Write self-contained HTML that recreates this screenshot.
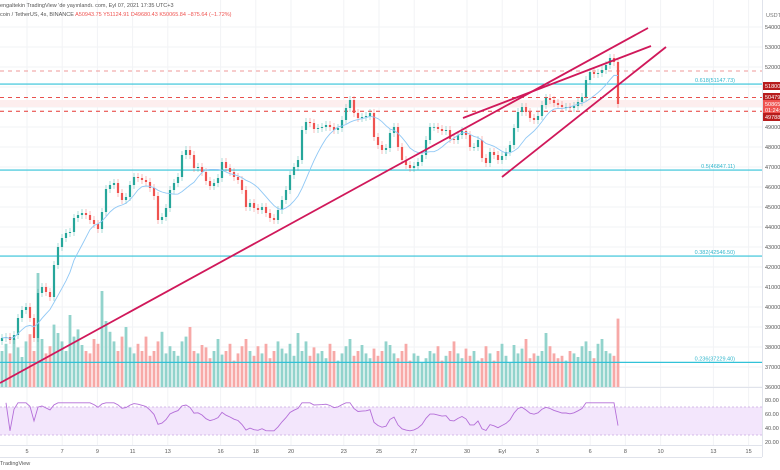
<!DOCTYPE html>
<html><head><meta charset="utf-8"><style>
html,body{margin:0;padding:0;background:#fff;width:780px;height:470px;overflow:hidden}
svg{display:block;font-family:"Liberation Sans",sans-serif}
</style></head><body>
<svg id="chart" width="780" height="470" viewBox="0 0 780 470" xmlns="http://www.w3.org/2000/svg">
<rect width="780" height="470" fill="#fff"/>
<g id="grid"></g>
<rect x="0" y="407" width="762" height="28" fill="#f3e6fc"/>
<line x1="0" y1="407" x2="762" y2="407" stroke="#c9a9df" stroke-dasharray="2,2" stroke-width="0.7"/>
<line x1="0" y1="435" x2="762" y2="435" stroke="#c9a9df" stroke-dasharray="2,2" stroke-width="0.7"/>
<rect x="0" y="100" width="762" height="7" fill="#fdeeee"/>
<g id="vol"></g>
<g id="hlines"></g>
<g id="candles"></g>
<path id="ma" fill="none" stroke="#90c8f5" stroke-width="0.9"/>
<g id="trend" stroke="#d0185a" stroke-width="1.8" fill="none"></g>
<path id="rsi" fill="none" stroke="#b46ed8" stroke-width="0.9"/>
<line x1="0" y1="387.5" x2="762" y2="387.5" stroke="#e0e3eb" stroke-width="1"/>
<line x1="0" y1="445.5" x2="762" y2="445.5" stroke="#e0e3eb" stroke-width="1"/>
<line x1="0" y1="457.5" x2="762" y2="457.5" stroke="#e0e3eb" stroke-width="1"/>
<line x1="762.5" y1="0" x2="762.5" y2="457" stroke="#e0e3eb" stroke-width="1"/>
<g id="yaxis" font-size="5.5" fill="#555"></g>
<g id="xaxis" font-size="5.5" fill="#555" text-anchor="middle"></g>
<g id="labels"></g>
<text x="0" y="7" font-size="5.5" fill="#555">engaltekin TradingView 'de yayınlandı. com, Eyl 07, 2021 17:35 UTC+3</text>
<text x="0" y="16" font-size="5.5" fill="#555">coin / TetherUS, 4s, BINANCE <tspan fill="#ef5350">A50943.75  Y51124.91  D49680.43  K50065.84  −875.64 (−1.72%)</tspan></text>
<text x="766" y="17" font-size="5.5" fill="#777">USDT</text>
<text x="0" y="465" font-size="5.5" fill="#555">TradingView</text>
</svg>
<script>
const closes=[38450,38500,38350,38600,39450,39850,40000,39450,38450,40700,41000,40750,40500,42100,43000,43450,43700,43750,44450,44600,44700,44600,44350,44150,43900,44750,45900,46100,46200,45700,45350,45500,46100,46500,46450,46350,46250,45950,45550,44350,44500,44950,45850,46200,46500,47600,47850,47600,46950,47000,46750,46300,46050,46200,46450,47250,46950,46750,46500,46350,45850,45000,45200,44950,44850,45000,44700,44450,44350,44850,45350,45850,46600,47000,47350,48850,49250,49200,48900,48950,49000,49100,49000,48850,48950,49350,49950,50350,49700,49450,49500,49550,49700,48500,48100,47850,47950,48700,49000,48000,47350,47100,46950,47050,47250,47600,48350,49000,49000,48900,48800,48850,48400,48350,48600,48800,48600,48000,48000,48350,47450,47200,47750,47600,47350,47550,47750,48100,48950,49750,50000,49750,49450,49350,49550,50100,50450,50350,50200,50100,50000,50000,49950,50050,50250,50500,51350,51750,51650,51700,51850,52100,52450,52250,50150];
const volumes=[30,36,28,40,33,25,38,44,30,95,40,28,34,52,45,38,30,60,42,48,35,30,28,40,36,80,55,46,38,30,42,50,33,28,36,30,42,26,30,38,46,28,34,30,26,38,42,50,30,28,35,33,24,30,40,27,30,36,22,28,34,40,30,26,34,28,36,24,30,38,32,28,36,26,45,30,38,26,33,28,30,24,36,30,22,28,34,40,26,30,35,28,24,32,26,30,38,35,28,24,30,36,22,28,26,20,24,30,28,34,22,26,30,38,28,24,32,26,30,22,24,34,28,22,30,36,26,20,35,28,32,40,24,28,26,30,45,34,28,24,26,22,30,28,25,34,38,30,24,36,40,30,28,26,57];
const yTicks=[54000,53000,52000,49000,48000,47000,46000,45000,44000,43000,42000,41000,40000,39000,38000,37000,36000];
const rsiTicks=[80,60,40,20];
const xTickLabels=["5","7","9","11","13","16","18","20","23","25","27","30","Eyl","3","6","8","10","13","15"];
const xTickDays=[0,2,4,6,8,11,13,15,18,20,22,25,27,29,32,34,36,39,41];
const fibLevels=[51147.73,46847.11,42546.50,37229.40];
const fibNames=["0.618(51147.73)","0.5(46847.11)","0.382(42546.50)","0.236(37229.40)"];
const alertLevels=[51800,50479,49788];
const trendLines=[[36200,-0.5,53950,161.5],[49450,115.25,53050,162.25],[46500,125,53000,166]];

const NS="http://www.w3.org/2000/svg";
const py=p=>27+(54000-p)*0.02;
const cx=i=>2+i*4;
const dayX=d=>27+d*17.6;
const ry=v=>400+(80-v)*0.7;
const vh=v=>v*1.2;
function mk(tag,attrs,parent){const e=document.createElementNS(NS,tag);for(const k in attrs)e.setAttribute(k,attrs[k]);parent.appendChild(e);return e;}
const $=id=>document.getElementById(id);

xTickDays.forEach(d=>{const l=mk('line',{x1:dayX(d),y1:0,x2:dayX(d),y2:445,stroke:'#f2f3f6','stroke-width':1},$('grid'));

});
for(let p=36000;p<=54000;p+=1000){const l=mk('line',{x1:0,y1:py(p),x2:762,y2:py(p),stroke:'#f2f3f6','stroke-width':1},$('grid'));

}

volumes.forEach((v,i)=>{const o=i?closes[i-1]:38300;const up=closes[i]>=o;
const r=mk('rect',{x:cx(i)-1.4,y:387-vh(v),width:2.8,height:vh(v),fill:up?'#92d3cc':'#f7a9a7'},$('vol'));

});

fibLevels.forEach((p,k)=>{const l=mk('line',{x1:0,y1:py(p),x2:762,y2:py(p),stroke:'#31c2d8','stroke-width':1.2},$('hlines'));


const t=mk('text',{x:735,y:py(p)-2,'font-size':5.5,fill:'#31b6cc','text-anchor':'end'},$('hlines'));t.textContent=fibNames[k];

});
alertLevels.forEach((p,k)=>{const l=mk('line',{x1:0,y1:py(p),x2:762,y2:py(p),stroke:k==0?'#ef9a9a':'#e53935','stroke-width':0.9,'stroke-dasharray':'4,4'},$('hlines'));

});

closes.forEach((c,i)=>{const o=i?closes[i-1]:38300;const up=c>=o;const col=up?'#26a69a':'#ef5350';
const hi=Math.max(o,c)+200,lo=Math.min(o,c)-200;
const g=mk('g',{},$('candles'));


mk('line',{x1:cx(i),y1:py(hi),x2:cx(i),y2:py(lo),stroke:col,'stroke-width':0.7,opacity:0.55},g);
const top=py(Math.max(o,c)),h=Math.max(0.8,py(Math.min(o,c))-top);
mk('rect',{x:cx(i)-1.1,y:top,width:2.2,height:h,fill:col},g);});

let d='';closes.forEach((c,i)=>{const n=Math.min(10,i+1);let s=0;for(let j=i-n+1;j<=i;j++)s+=closes[j];d+=(i?'L':'M')+cx(i)+','+py(s/n).toFixed(1);});
$('ma').setAttribute('d',d);

trendLines.forEach(t=>{const [p1,i1,p2,i2]=t;const l=mk('line',{x1:cx(i1),y1:py(p1),x2:cx(i2),y2:py(p2)},$('trend'));

});

let ag=0,al=0,rd='';const N=12;
closes.forEach((c,i)=>{if(i==0)return;const ch=c-closes[i-1];const g=Math.max(ch,0),l=Math.max(-ch,0);
if(i<=N){ag+=g/N;al+=l/N;}else{ag=(ag*(N-1)+g)/N;al=(al*(N-1)+l)/N;}
const rs=al==0?100:100-100/(1+ag/al);const v=Math.min(76,Math.max(36,rs));
rd+=(rd?'L':'M')+cx(i)+','+ry(v).toFixed(1);});
$('rsi').setAttribute('d',rd);

yTicks.forEach(p=>{const t=mk('text',{x:765,y:py(p)+2},$('yaxis'));t.textContent=p+'.00';

});
rsiTicks.forEach(v=>{const t=mk('text',{x:765,y:ry(v)+2},$('yaxis'));t.textContent=v+'.00';

});
xTickLabels.forEach((s,k)=>{const t=mk('text',{x:dayX(xTickDays[k]),y:453},$('xaxis'));t.textContent=s;

});

const boxes=[[86,'#b71c1c','51800.00'],[97,'#b71c1c','50479.00'],[104,'#ef5350','50865.84'],[110,'#ef5350','01:24:05'],[117,'#b71c1c','49788.00']];
boxes.forEach(b=>{const g=mk('g',{},$('labels'));


mk('rect',{x:763,y:b[0]-4,width:17,height:8,fill:b[1]},g);
const t=mk('text',{x:765,y:b[0]+2,'font-size':5.5,fill:'#fff'},g);t.textContent=b[2];});
</script>
</body></html>
